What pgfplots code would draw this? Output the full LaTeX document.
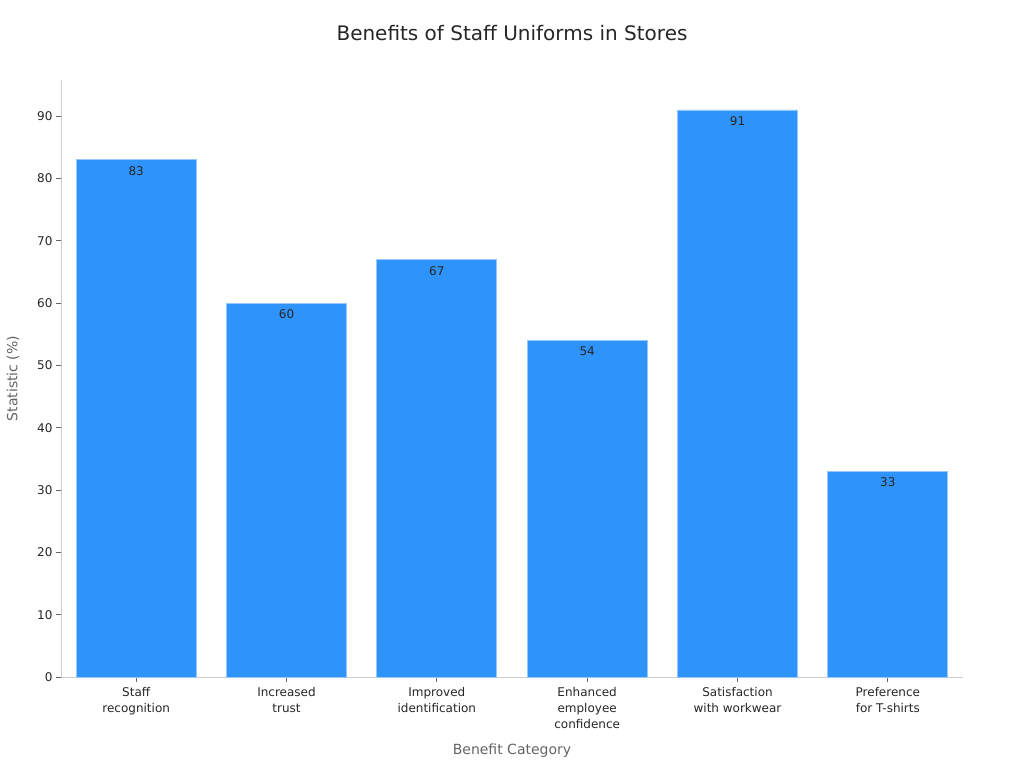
\documentclass[border=0pt]{standalone}
\usepackage{fontspec}
\setmainfont{DejaVu Sans}
\usepackage{pgfplots}
\pgfplotsset{compat=1.18}
\definecolor{barblue}{RGB}{46,147,250}
\definecolor{baredge}{RGB}{150,200,250}
\definecolor{spine}{RGB}{204,204,204}
\definecolor{ticktext}{RGB}{38,38,38}
\definecolor{labeltext}{RGB}{100,100,100}
\begin{document}
\begin{tikzpicture}[x=1pt,y=1pt]
\path[use as bounding box] (0,0) rectangle (1024,768);
\node[font=\fontsize{20}{24}\selectfont, text=ticktext] at (512,735) {Benefits of Staff Uniforms in Stores};
\begin{axis}[
  at={(61pt,91pt)}, anchor=south west,
  scale only axis,
  width=902pt, height=597pt,
  xmin=-0.5, xmax=5.5,
  ymin=0, ymax=95.8,
  ytick={0,10,...,90},
  xtick=data,
  xticklabels={Staff\\recognition, Increased\\trust, Improved\\identification, Enhanced\\employee\\confidence, Satisfaction\\with workwear, Preference\\for T-shirts},
  x tick label style={align=center, font=\fontsize{12}{16}\selectfont, text=ticktext, yshift=-2pt},
  y tick label style={font=\fontsize{12}{16}\selectfont, text=ticktext},
  /pgf/number format/assume math mode=true,
  axis lines*=left,
  axis line style={spine, line width=0.8pt},
  tick align=outside,
  major tick length=5pt,
  tick style={color=labeltext, line width=0.8pt},
  xlabel={Benefit Category},
  ylabel={Statistic (\%)},
  label style={font=\fontsize{14}{17}\selectfont, text=labeltext},
  xlabel style={at={(axis description cs:0.5,0)}, anchor=center, yshift=-74pt},
  ylabel style={at={(axis description cs:0,0.5)}, anchor=center, yshift=48pt},
  ybar, bar width=120pt,
  nodes near coords,
  every node near coord/.append style={anchor=north, yshift=-3pt, font=\fontsize{12}{14}\selectfont, text=ticktext},
]
\addplot[fill=barblue, draw=baredge, line width=0.8pt] coordinates {
  (0,83) (1,60) (2,67) (3,54) (4,91) (5,33)
};
\end{axis}
\end{tikzpicture}
\end{document}
